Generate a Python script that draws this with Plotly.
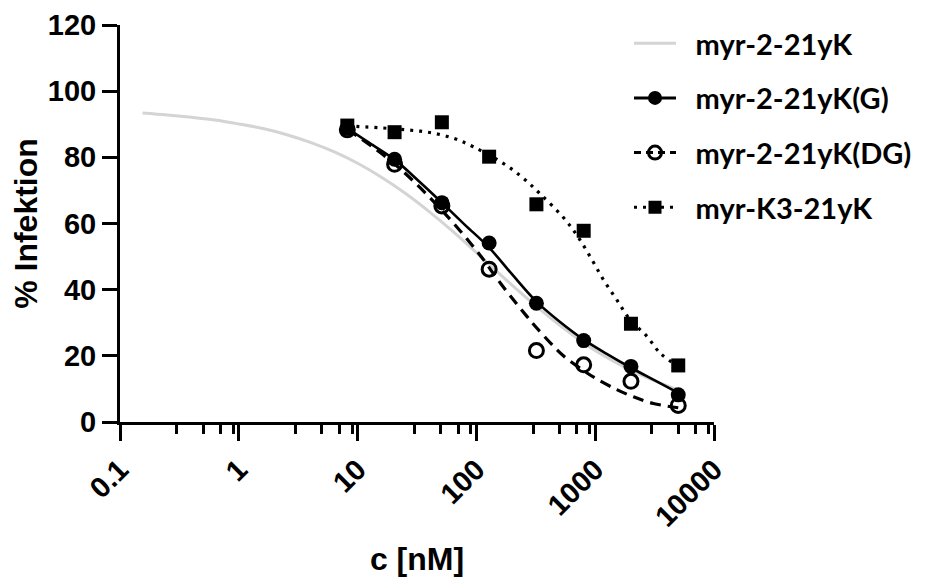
import plotly.graph_objects as go

# ---- data ----
conc = [8.192, 20.48, 51.2, 128, 320, 800, 2000, 5000]
g_pts = [88.8, 79.4, 66.3, 54.1, 35.9, 24.6, 16.8, 8.2]
dg_pts = [88.3, 77.9, 65.3, 46.2, 21.6, 17.3, 12.3, 5.0]
k3_pts = [89.6, 87.6, 90.6, 80.2, 65.8, 57.8, 29.7, 17.1]

grey_x = [0.155, 0.25, 0.4, 0.63, 1, 1.6, 2.5, 4, 6.3, 10, 16, 25, 40, 63, 100, 160, 250, 400, 630, 1000, 1600, 2500, 4000, 5000]
grey_y = [93.4, 92.8, 92.1, 91.3, 90.1, 88.7, 86.9, 84.5, 81.7, 78.2, 73.9, 69.2, 63.6, 57.7, 51.2, 44.5, 38.3, 32.1, 26.6, 21.6, 17.4, 14.0, 11.0, 9.7]

g_fit_x = [8.192, 12, 20.48, 33, 51.2, 80, 128, 200, 320, 500, 800, 1250, 2000, 3200, 5000]
g_fit_y = [88.8, 84.8, 79.3, 72.7, 66.3, 59.6, 52.7, 44.6, 36.4, 30.4, 24.9, 20.6, 16.4, 12.5, 8.8]

dg_fit_x = [8.192, 20.48, 51.2, 107, 148, 204, 265, 321, 443, 540, 800, 1030, 1520, 2099, 3090, 5000]
dg_fit_y = [88.5, 78.0, 64.0, 50.5, 43.5, 37.0, 32.0, 28.5, 23.0, 20.0, 15.5, 13.0, 9.8, 7.6, 5.6, 4.3]

k3_fit_x = [8.192, 15.9, 25.9, 40.5, 63.8, 94, 168, 248, 343, 540, 700, 906, 1173, 1520, 1968, 2723, 3526, 5000]
k3_fit_y = [89.5, 88.9, 88.3, 87.5, 85.8, 83.2, 78.2, 73.7, 69.0, 61.8, 56.5, 50.0, 43.0, 36.9, 30.9, 25.9, 20.8, 16.8]

names = ["myr-2-21yK", "myr-2-21yK(G)", "myr-2-21yK(DG)", "myr-K3-21yK"]
x_tickvals = [0.1, 1, 10, 100, 1000, 10000]
x_ticktext = ["0.1", "1", "10", "100", "1000", "10000"]
x_minor = [0.3, 0.5, 0.7, 0.9, 3, 5, 7, 9, 30, 50, 70, 90, 300, 500, 700, 900, 3000, 5000, 7000, 9000]
y_tickvals = [0, 20, 40, 60, 80, 100, 120]

PAD = "\u2002"  # gap between legend symbol and label

fig = go.Figure()

# fitted curves
fig.add_trace(go.Scatter(x=grey_x, y=grey_y, mode="lines", line=dict(color="#d4d4d4", width=3, shape="spline"),
                         name=PAD + names[0], legendgroup="a", showlegend=True))
fig.add_trace(go.Scatter(x=g_fit_x, y=g_fit_y, mode="lines", line=dict(color="black", width=2.6, shape="spline"),
                         showlegend=False, legendgroup="b"))
fig.add_trace(go.Scatter(x=dg_fit_x, y=dg_fit_y, mode="lines", line=dict(color="black", width=3.2, shape="spline", dash="11px,7px"),
                         showlegend=False, legendgroup="c"))
fig.add_trace(go.Scatter(x=k3_fit_x, y=k3_fit_y, mode="lines", line=dict(color="black", width=3.2, shape="spline", dash="3px,6px"),
                         showlegend=False, legendgroup="d"))

# data points
fig.add_trace(go.Scatter(x=conc, y=k3_pts, mode="markers", marker=dict(symbol="square", size=14, color="black"),
                         showlegend=False, legendgroup="d"))
fig.add_trace(go.Scatter(x=conc, y=g_pts, mode="markers", marker=dict(symbol="circle", size=15, color="black"),
                         showlegend=False, legendgroup="b"))
fig.add_trace(go.Scatter(x=conc, y=dg_pts, mode="markers",
                         marker=dict(symbol="circle-open", size=14, color="black", line=dict(width=3)),
                         showlegend=False, legendgroup="c"))

# legend-only entries
fig.add_trace(go.Scatter(x=[None], y=[None], mode="lines+markers", name=PAD + names[1], legendgroup="b",
                         line=dict(color="black", width=3), marker=dict(symbol="circle", size=14, color="black")))
fig.add_trace(go.Scatter(x=[None], y=[None], mode="lines+markers", name=PAD + names[2], legendgroup="c",
                         line=dict(color="black", width=3, dash="7px,5px"),
                         marker=dict(symbol="circle-open", size=13, color="black", line=dict(width=3))))
fig.add_trace(go.Scatter(x=[None], y=[None], mode="lines+markers", name=PAD + names[3], legendgroup="d",
                         line=dict(color="black", width=3, dash="3px,6px"),
                         marker=dict(symbol="square", size=13, color="black")))

axis_font = dict(family="Liberation Sans, Arial", size=29, color="black", weight="bold")
title_font = dict(family="Liberation Sans, Arial", size=32, color="black", weight="bold")

fig.update_layout(
    width=926, height=578,
    margin=dict(l=112, r=220, t=17, b=164, autoexpand=False),
    paper_bgcolor="white", plot_bgcolor="white",
    showlegend=True,
    legend=dict(x=(629 - 120) / 594, xanchor="left", y=1.018, yanchor="top", traceorder="grouped",
                tracegroupgap=14, itemwidth=42, bgcolor="rgba(0,0,0,0)", borderwidth=0,
                font=dict(family="Lato", size=29, color="black", weight="bold")),
    xaxis=dict(type="log", range=[-1, 4], showgrid=False, zeroline=False,
               showline=True, linecolor="black", linewidth=3,
               ticks="outside", ticklen=16, tickwidth=3, tickcolor="black",
               tickmode="array", tickvals=x_tickvals, ticktext=x_ticktext, tickangle=-45,
               tickfont=axis_font,
               minor=dict(tickmode="array", tickvals=x_minor, ticks="outside", ticklen=9, tickwidth=3, tickcolor="black", showgrid=False),
               title=dict(text="c [nM]", font=title_font, standoff=16)),
    yaxis=dict(range=[0, 120], showgrid=False, zeroline=False,
               showline=True, linecolor="black", linewidth=3,
               ticks="outside", ticklen=15, tickwidth=3, tickcolor="black",
               tickmode="array", tickvals=y_tickvals, tickfont=axis_font,
               title=dict(text="% Infektion", font=title_font, standoff=10)),
)

fig.write_html("out.html")
